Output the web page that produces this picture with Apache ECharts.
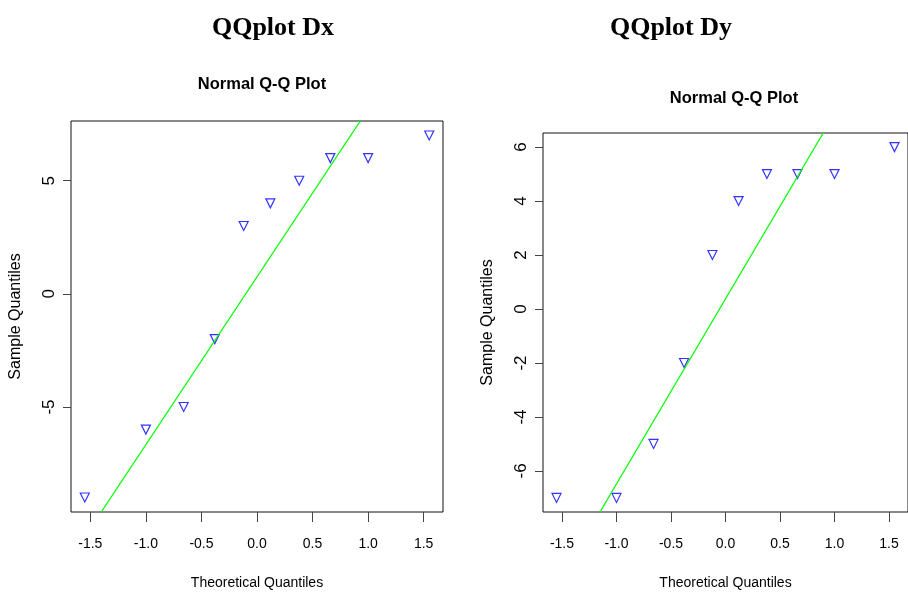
<!DOCTYPE html>
<html>
<head>
<meta charset="utf-8">
<script src="https://cdn.jsdelivr.net/npm/echarts@6/dist/echarts.min.js"></script>
<style>
html, body { margin: 0; padding: 0; background: #fff; }
#qq { width: 908px; height: 595px; }
</style>
</head>
<body>
<div id="qq"></div>
<script>
// theoretical normal quantiles for n = 10 (x positions of the points)
var theoQ = [-1.55, -1.00, -0.66, -0.38, -0.12, 0.12, 0.38, 0.66, 1.00, 1.55];
// sorted sample values
var dxSample = [-9, -6, -5, -2, 3, 4, 5, 6, 6, 7];
var dySample = [-7, -7, -5, -2, 2, 4, 5, 5, 5, 6];
// tick labels
var xTicks = [-1.5, -1.0, -0.5, 0.0, 0.5, 1.0, 1.5];
var dxTicks = [-5, 0, 5];
var dyTicks = [-6, -4, -2, 0, 2, 4, 6];
var titles = ['QQplot Dx', 'QQplot Dy'];

var sans = "'Liberation Sans', Arial, sans-serif";

// R style: range padded by 4%
function padRange(arr) {
    var lo = Math.min.apply(null, arr), hi = Math.max.apply(null, arr);
    var d = (hi - lo) * 0.04;
    return [lo - d, hi + d];
}
// quantile type 7, like qqline uses
function quant(arr, p) {
    var s = arr.slice().sort(function (a, b) { return a - b; });
    var h = (s.length - 1) * p, i = Math.floor(h);
    return s[i] + (h - i) * ((s[i + 1] !== undefined ? s[i + 1] : s[i]) - s[i]);
}
function qqLine(arr) {
    var z = 0.6745;
    var y1 = quant(arr, 0.25), y2 = quant(arr, 0.75);
    var slope = (y2 - y1) / (2 * z);
    var icpt = y1 + z * slope;
    return [[-3, icpt - 3 * slope], [3, icpt + 3 * slope]];
}
function pts(arr) {
    return theoQ.map(function (x, i) { return [x, arr[i]]; });
}

var xr = padRange(theoQ);
var grids = [
    { left: 71, top: 121, width: 372, height: 392 },
    { left: 543, top: 133, width: 372, height: 383 }
];
var samples = [dxSample, dySample];
var yTickSets = [dxTicks, dyTicks];

var chart = echarts.init(document.getElementById('qq'));
var option = {
    backgroundColor: '#fff',
    animation: false,
    title: [
        { text: titles[0], left: 268, top: 10, textAlign: 'center',
          textStyle: { fontFamily: "'Liberation Serif', serif", fontSize: 26, fontWeight: 'bold', color: '#000' } },
        { text: titles[1], left: 666, top: 10, textAlign: 'center',
          textStyle: { fontFamily: "'Liberation Serif', serif", fontSize: 26, fontWeight: 'bold', color: '#000' } },
        { text: 'Normal Q-Q Plot', left: 257, top: 71, textAlign: 'center',
          textStyle: { fontFamily: sans, fontSize: 16.5, fontWeight: 'bold', color: '#000' } },
        { text: 'Normal Q-Q Plot', left: 729, top: 85, textAlign: 'center',
          textStyle: { fontFamily: sans, fontSize: 16.5, fontWeight: 'bold', color: '#000' } }
    ],
    grid: grids.map(function (g) {
        return Object.assign({ show: true, borderColor: '#111', borderWidth: 1, backgroundColor: 'transparent' }, g);
    }),
    xAxis: [0, 1].map(function (i) {
        return {
            type: 'value', gridIndex: i, min: xr[0], max: xr[1],
            name: 'Theoretical Quantiles', nameLocation: 'middle', nameGap: 64,
            nameTextStyle: { fontFamily: sans, fontSize: 14, color: '#000' },
            axisLine: { show: false, onZero: false },
            splitLine: { show: false },
            axisTick: { show: true, length: 10, customValues: xTicks, lineStyle: { color: '#444' } },
            axisLabel: { customValues: xTicks, margin: 25, fontFamily: sans, fontSize: 14, color: '#000',
                formatter: function (v) { return v.toFixed(1); } }
        };
    }),
    yAxis: [0, 1].map(function (i) {
        var yr = padRange(samples[i]);
        return {
            type: 'value', gridIndex: i, min: yr[0], max: yr[1],
            name: 'Sample Quantiles', nameLocation: 'middle', nameGap: 47,
            nameTextStyle: { fontFamily: sans, fontSize: 16, color: '#000' },
            axisLine: { show: false, onZero: false },
            splitLine: { show: false },
            axisTick: { show: true, length: 8, customValues: yTickSets[i], lineStyle: { color: '#444' } },
            axisLabel: { customValues: yTickSets[i], rotate: 90, margin: 13, fontFamily: sans, fontSize: 17, color: '#000' }
        };
    }),
    series: []
};

[0, 1].forEach(function (i) {
    option.series.push({
        type: 'line', xAxisIndex: i, yAxisIndex: i,
        data: qqLine(samples[i]), symbol: 'none', clip: true,
        lineStyle: { color: '#00ff00', width: 1.2 }
    });
    option.series.push({
        type: 'scatter', xAxisIndex: i, yAxisIndex: i,
        data: pts(samples[i]),
        symbol: 'path://M0,0 L10,0 L5,9 Z', symbolSize: [9, 9],
        itemStyle: { color: 'transparent', borderColor: '#0000ff', borderWidth: 1.2 }
    });
});

chart.setOption(option);
</script>
</body>
</html>
